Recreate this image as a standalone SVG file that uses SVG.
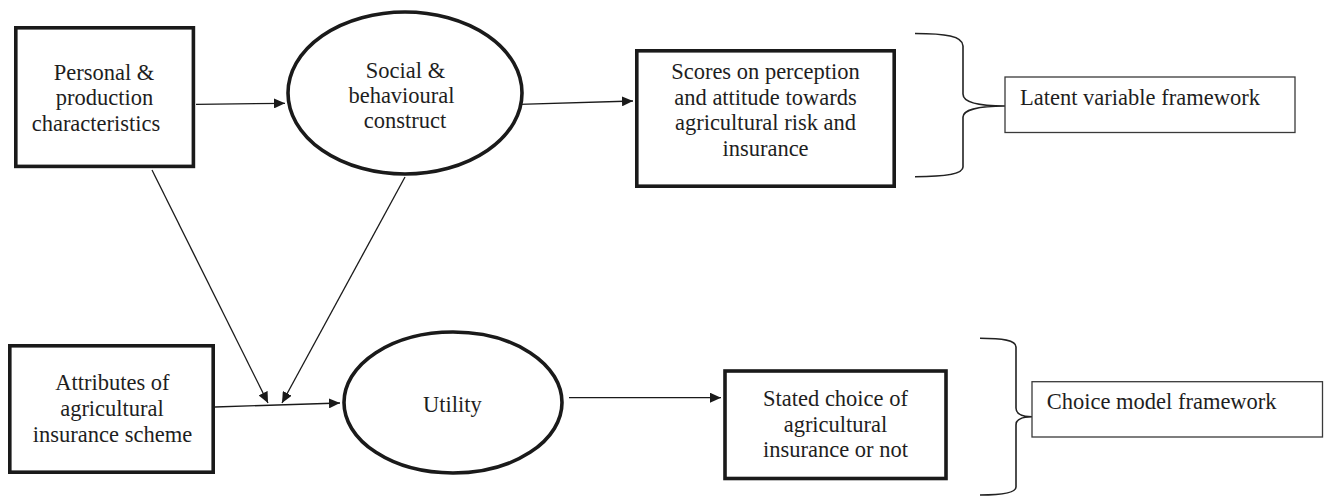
<svg xmlns="http://www.w3.org/2000/svg" width="1324" height="496" viewBox="0 0 1324 496">
<style>
  .thick { fill: #ffffff; stroke: #1a1a1a; stroke-width: 3.6; }
  .thin { fill: #ffffff; stroke: #3a3a3a; stroke-width: 1.3; }
  .conn { fill: none; stroke: #1a1a1a; stroke-width: 1.3; }
  .brace { fill: none; stroke: #222222; stroke-width: 1.6; }
  .t { font-family: 'Liberation Serif', 'Times New Roman', Tinos, 'Nimbus Roman', 'DejaVu Serif', serif; font-size: 22.5px; fill: #1e1e1e; }
  .c { text-anchor: middle; }
</style>
<defs>
  <marker id="ah" markerUnits="userSpaceOnUse" markerWidth="12" markerHeight="10" refX="11" refY="5" orient="auto">
    <path d="M0,0 L11,5 L0,10 z" fill="#1a1a1a"/>
  </marker>
</defs>
<rect width="1324" height="496" fill="#ffffff"/>

<g id="connectors">
  <line class="conn" x1="196" y1="104.3" x2="285" y2="103.3" marker-end="url(#ah)"/>
  <line class="conn" x1="519" y1="104.3" x2="633" y2="101" marker-end="url(#ah)"/>
  <line class="conn" x1="152" y1="170" x2="268" y2="403" marker-end="url(#ah)"/>
  <line class="conn" x1="405" y1="177" x2="282" y2="403" marker-end="url(#ah)"/>
  <line class="conn" x1="215" y1="407" x2="340" y2="403" marker-end="url(#ah)"/>
  <line class="conn" x1="569" y1="397.7" x2="721" y2="397.7" marker-end="url(#ah)"/>
</g>

<g id="personal">
  <rect class="thick" x="15.8" y="27.8" width="177.6" height="138.6"/>
  <text class="t c" font-family="Liberation Serif, serif" x="104" y="79.5">Personal &amp;</text>
  <text class="t c" font-family="Liberation Serif, serif" x="104.5" y="105">production</text>
  <text class="t c" font-family="Liberation Serif, serif" x="96" y="130.5">characteristics</text>
</g>

<g id="social">
  <ellipse class="thick" cx="405" cy="93" rx="117" ry="81"/>
  <text class="t c" x="405.5" y="78">Social &amp;</text>
  <text class="t c" x="401.5" y="103">behavioural</text>
  <text class="t c" x="405" y="128">construct</text>
</g>

<g id="scores">
  <rect class="thick" x="636.8" y="50.8" width="257.4" height="135.4"/>
  <text class="t c" x="765.5" y="79.3">Scores on perception</text>
  <text class="t c" x="765.5" y="104.5">and attitude towards</text>
  <text class="t c" x="765.5" y="130">agricultural risk and</text>
  <text class="t c" x="765.5" y="155.5">insurance</text>
</g>

<g id="latent-brace">
  <path class="brace" d="M915,33.5 C945,33.5 963,36 963,46 L963,94 C963,102 978,106 1005,106 C978,106 963,110 963,117 L963,167 C963,174 945,176.7 915,176.7"/>
</g>

<g id="latent">
  <rect class="thin" x="1005" y="77" width="290" height="55.5"/>
  <text class="t" x="1020" y="105">Latent variable framework</text>
</g>

<g id="attributes">
  <rect class="thick" x="9.8" y="345.8" width="203.4" height="126.4"/>
  <text class="t c" x="112.4" y="390">Attributes of</text>
  <text class="t c" x="112" y="416">agricultural</text>
  <text class="t c" x="112.5" y="441.5">insurance scheme</text>
</g>

<g id="utility">
  <ellipse class="thick" cx="453" cy="402.5" rx="109" ry="70.5"/>
  <text class="t c" x="452.5" y="412">Utility</text>
</g>

<g id="stated">
  <rect class="thick" x="725" y="371" width="221" height="107.5"/>
  <text class="t c" x="835.5" y="406">Stated choice of</text>
  <text class="t c" x="835.5" y="431.7">agricultural</text>
  <text class="t c" x="835.5" y="457.3">insurance or not</text>
</g>

<g id="choice-brace">
  <path class="brace" d="M980,338.3 C1002,338.3 1016,340 1016,347 L1016,408 C1016,414 1022,416.7 1032,416.7 C1022,416.7 1016,419 1016,425 L1016,487 C1016,493 1002,495 980,495"/>
</g>

<g id="choice">
  <rect class="thin" x="1032" y="381.7" width="290.5" height="55.3"/>
  <text class="t" x="1046.7" y="409">Choice model framework</text>
</g>
</svg>
